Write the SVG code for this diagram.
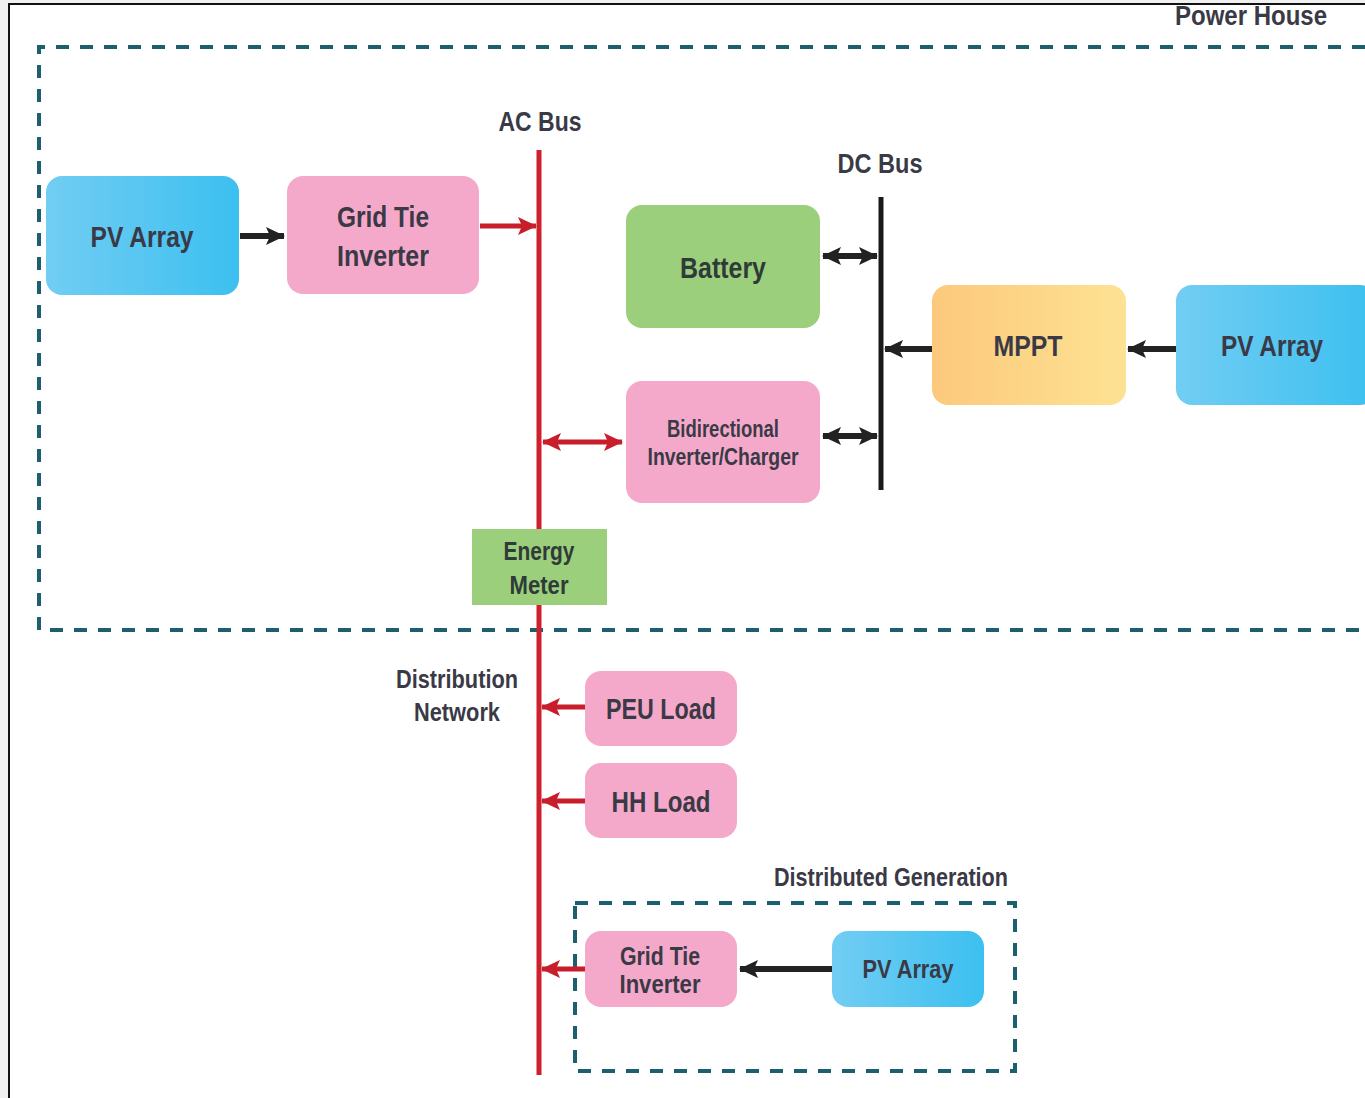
<svg xmlns="http://www.w3.org/2000/svg" width="1365" height="1098" viewBox="0 0 1365 1098">
<defs>
<linearGradient id="gBlue" x1="0" y1="0" x2="1" y2="0"><stop offset="0" stop-color="#72cdf3"/><stop offset="1" stop-color="#3cc0f0"/></linearGradient>
<linearGradient id="gOrange" x1="0" y1="0" x2="1" y2="0"><stop offset="0" stop-color="#fcc97c"/><stop offset="1" stop-color="#fde293"/></linearGradient>
<marker id="hk" markerUnits="userSpaceOnUse" markerWidth="20" markerHeight="20" refX="18" refY="10" orient="auto-start-reverse"><path d="M0,1 L19,10 L0,19 L4,10 Z" fill="#222"/></marker>
<marker id="hr" markerUnits="userSpaceOnUse" markerWidth="20" markerHeight="20" refX="18" refY="10" orient="auto-start-reverse"><path d="M0,1 L19,10 L0,19 L4,10 Z" fill="#c81e2c"/></marker>
<style>
.t{font-family:"Liberation Sans",Arial,sans-serif;font-weight:bold;fill:#3a3a47;text-anchor:middle}
.pink{fill:#f5a9ca}
.green{fill:#9ccf7c}
.dash{fill:none;stroke:#1c5f6e;stroke-width:4;stroke-dasharray:13 11}
.ak{stroke:#222;stroke-width:6;fill:none}
.ar{stroke:#c81e2c;stroke-width:5;fill:none}
</style>
</defs>
<rect x="0" y="0" width="1365" height="1098" fill="#f0f0f0"/>
<rect x="9" y="4" width="1360" height="1100" fill="#ffffff" stroke="#111" stroke-width="2"/>

<g id="powerhouse">
<path class="dash" d="M1365,47 H39 V630 H1365"/>
<text class="t" x="1251" y="25" font-size="27" textLength="152" lengthAdjust="spacingAndGlyphs">Power House</text>
</g>
<g id="distgen">
<rect class="dash" x="575" y="903" width="440" height="168"/>
<text class="t" x="891" y="886" font-size="25" textLength="234" lengthAdjust="spacingAndGlyphs">Distributed Generation</text>
</g>

<g id="buses">
<line x1="539" y1="150" x2="539" y2="1075" stroke="#d0202e" stroke-width="5"/>
<text class="t" x="540" y="131" font-size="27" textLength="83" lengthAdjust="spacingAndGlyphs">AC Bus</text>
<line x1="881" y1="197" x2="881" y2="490" stroke="#1a1a1a" stroke-width="5"/>
<text class="t" x="880" y="173" font-size="27" textLength="85" lengthAdjust="spacingAndGlyphs">DC Bus</text>
<text class="t" x="457" y="688" font-size="25" textLength="122" lengthAdjust="spacingAndGlyphs">Distribution</text>
<text class="t" x="457" y="721" font-size="25" textLength="86" lengthAdjust="spacingAndGlyphs">Network</text>
</g>

<g id="connectors">
<line class="ak" x1="240" y1="236" x2="284" y2="236" marker-end="url(#hk)"/>
<line class="ar" x1="480" y1="226" x2="536" y2="226" marker-end="url(#hr)"/>
<line class="ak" x1="823" y1="256" x2="877" y2="256" marker-start="url(#hk)" marker-end="url(#hk)"/>
<line class="ak" x1="823" y1="436" x2="877" y2="436" marker-start="url(#hk)" marker-end="url(#hk)"/>
<line class="ar" x1="543" y1="442" x2="622" y2="442" marker-start="url(#hr)" marker-end="url(#hr)"/>
<line class="ak" x1="932" y1="349" x2="885" y2="349" marker-end="url(#hk)"/>
<line class="ak" x1="1176" y1="349" x2="1128" y2="349" marker-end="url(#hk)"/>
<line class="ar" x1="585" y1="707" x2="542" y2="707" marker-end="url(#hr)"/>
<line class="ar" x1="585" y1="801" x2="542" y2="801" marker-end="url(#hr)"/>
<line class="ar" x1="585" y1="969" x2="542" y2="969" marker-end="url(#hr)"/>
<line class="ak" x1="832" y1="969" x2="740" y2="969" marker-end="url(#hk)"/>
</g>

<g id="pv1">
<rect x="46" y="176" width="193" height="119" rx="16" fill="url(#gBlue)"/>
<text class="t" x="142" y="247" font-size="30" textLength="103" lengthAdjust="spacingAndGlyphs">PV Array</text>
</g>
<g id="gti1">
<rect class="pink" x="287" y="176" width="192" height="118" rx="16"/>
<text class="t" x="383" y="227" font-size="30" textLength="92" lengthAdjust="spacingAndGlyphs">Grid Tie</text>
<text class="t" x="383" y="266" font-size="30" textLength="92" lengthAdjust="spacingAndGlyphs">Inverter</text>
</g>
<g id="battery">
<rect class="green" x="626" y="205" width="194" height="123" rx="16"/>
<text class="t" x="723" y="278" font-size="30" textLength="86" lengthAdjust="spacingAndGlyphs" style="fill:#2f3b38">Battery</text>
</g>
<g id="bidir">
<rect class="pink" x="626" y="381" width="194" height="122" rx="16"/>
<text class="t" x="723" y="437" font-size="23" textLength="112" lengthAdjust="spacingAndGlyphs">Bidirectional</text>
<text class="t" x="723" y="465" font-size="23" textLength="151" lengthAdjust="spacingAndGlyphs">Inverter/Charger</text>
</g>
<g id="mppt">
<rect x="932" y="285" width="194" height="120" rx="16" fill="url(#gOrange)"/>
<text class="t" x="1028" y="356" font-size="30" textLength="69" lengthAdjust="spacingAndGlyphs">MPPT</text>
</g>
<g id="pv2">
<rect x="1176" y="285" width="200" height="120" rx="16" fill="url(#gBlue)"/>
<text class="t" x="1272" y="356" font-size="30" textLength="102" lengthAdjust="spacingAndGlyphs">PV Array</text>
</g>
<g id="meter">
<rect class="green" x="472" y="529" width="135" height="76"/>
<text class="t" x="539" y="560" font-size="25" textLength="71" lengthAdjust="spacingAndGlyphs" style="fill:#2f3b38">Energy</text>
<text class="t" x="539" y="594" font-size="25" textLength="59" lengthAdjust="spacingAndGlyphs" style="fill:#2f3b38">Meter</text>
</g>
<g id="peu">
<rect class="pink" x="585" y="671" width="152" height="75" rx="16"/>
<text class="t" x="661" y="719" font-size="29" textLength="110" lengthAdjust="spacingAndGlyphs">PEU Load</text>
</g>
<g id="hh">
<rect class="pink" x="585" y="763" width="152" height="75" rx="16"/>
<text class="t" x="661" y="812" font-size="29" textLength="99" lengthAdjust="spacingAndGlyphs">HH Load</text>
</g>
<g id="gti2">
<rect class="pink" x="585" y="931" width="152" height="76" rx="16"/>
<text class="t" x="660" y="965" font-size="26" textLength="80" lengthAdjust="spacingAndGlyphs">Grid Tie</text>
<text class="t" x="660" y="993" font-size="26" textLength="81" lengthAdjust="spacingAndGlyphs">Inverter</text>
</g>
<g id="pv3">
<rect x="832" y="931" width="152" height="76" rx="16" fill="url(#gBlue)"/>
<text class="t" x="908" y="978" font-size="26" textLength="91" lengthAdjust="spacingAndGlyphs">PV Array</text>
</g>
</svg>
